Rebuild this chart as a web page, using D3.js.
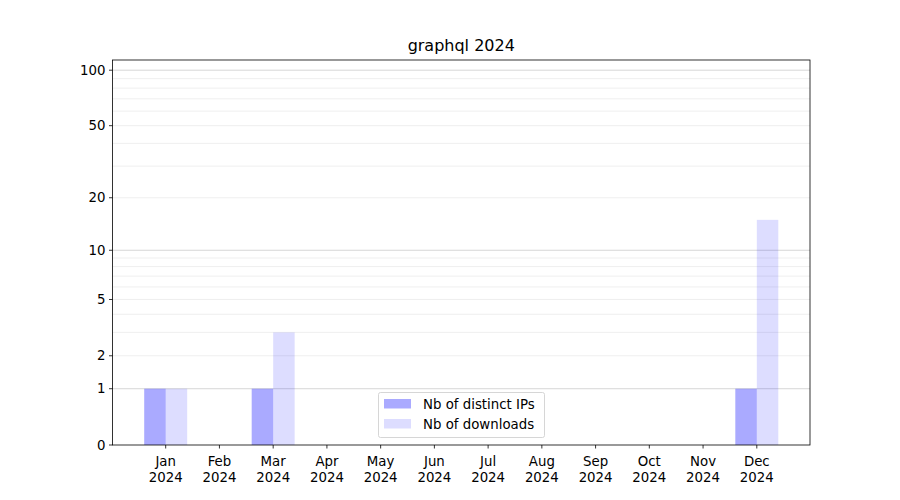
<!DOCTYPE html>
<html><head><meta charset="utf-8">
<script src="https://cdn.jsdelivr.net/npm/d3@7"></script>
<style>body{margin:0;background:#fff}svg{display:block}text{font-family:"DejaVu Sans",sans-serif;fill:#000}</style>
</head><body>
<svg id="c" width="900" height="500"></svg>
<script>
const months = ["Jan","Feb","Mar","Apr","May","Jun","Jul","Aug","Sep","Oct","Nov","Dec"];
const year = "2024";
const distinctIPs = [1,0,1,0,0,0,0,0,0,0,0,1];
const downloads = [1,0,3,0,0,0,0,0,0,0,0,15];
const yTicks = [0,1,2,5,10,20,50,100];
const majorGrid = [1,10,100];
const minorGrid = [2,3,4,5,6,7,8,9,20,30,40,50,60,70,80,90];
const title = "graphql 2024";
const legendLabels = ["Nb of distinct IPs","Nb of downloads"];

const svg = d3.select("#c");
const L=112.5,R=810,T=60,B=445;
const yMax = 113.5;
const tf = v => Math.log10(1+v);
const yLin = d3.scaleLinear().domain([0, tf(yMax)]).range([B,T]);
const y = v => yLin(tf(v));
const x = d3.scaleLinear().domain([-0.99, 11.99]).range([L,R]);
const bw = 0.4;

// grid
svg.append("g").selectAll("line").data(minorGrid).join("line")
  .attr("x1",L).attr("x2",R).attr("y1",d=>y(d)).attr("y2",d=>y(d))
  .attr("stroke","#ebebeb").attr("stroke-width",0.8);
svg.append("g").selectAll("line").data(majorGrid).join("line")
  .attr("x1",L).attr("x2",R).attr("y1",d=>y(d)).attr("y2",d=>y(d))
  .attr("stroke","#cccccc").attr("stroke-width",0.8);

// bars
svg.append("g").selectAll("rect").data(distinctIPs).join("rect")
  .attr("x",(d,i)=>x(i-bw)).attr("width",(d,i)=>x(i)-x(i-bw))
  .attr("y",d=>y(d)).attr("height",d=>B-y(d))
  .attr("fill","#0000ff").attr("fill-opacity",0.333);
svg.append("g").selectAll("rect").data(downloads).join("rect")
  .attr("x",(d,i)=>x(i)).attr("width",(d,i)=>x(i+bw)-x(i))
  .attr("y",d=>y(d)).attr("height",d=>B-y(d))
  .attr("fill","#0000ff").attr("fill-opacity",0.135);

// frame
svg.append("rect").attr("x",L).attr("y",T).attr("width",R-L).attr("height",B-T)
  .attr("fill","none").attr("stroke","#000").attr("stroke-width",0.8);

// y axis
const ya = svg.append("g");
yTicks.forEach(t=>{
  ya.append("line").attr("x1",L-3.5).attr("x2",L).attr("y1",y(t)).attr("y2",y(t)).attr("stroke","#000").attr("stroke-width",0.8);
  ya.append("text").attr("x",L-7).attr("y",y(t)).attr("dy","0.35em").attr("text-anchor","end").attr("font-size","13.33px").text(t);
});
// x axis
const xa = svg.append("g");
months.forEach((m,i)=>{
  xa.append("line").attr("x1",x(i)).attr("x2",x(i)).attr("y1",B).attr("y2",B+3.5).attr("stroke","#000").attr("stroke-width",0.8);
  const t = xa.append("text").attr("x",x(i)).attr("text-anchor","middle").attr("font-size","13.33px");
  t.append("tspan").attr("x",x(i)).attr("y",466).text(m);
  t.append("tspan").attr("x",x(i)).attr("y",482).text(year);
});

svg.append("text").attr("x",(L+R)/2).attr("y",51).attr("text-anchor","middle").attr("font-size","16px").text(title);

// legend
const lg = svg.append("g");
lg.append("rect").attr("x",378.5).attr("y",392.5).attr("width",166).attr("height",45).attr("rx",2)
  .attr("fill","#fff").attr("fill-opacity",0.8).attr("stroke","#cccccc").attr("stroke-width",0.8);
const op=[0.333,0.135];
legendLabels.forEach((lab,i)=>{
  lg.append("rect").attr("x",384).attr("y",399+i*20).attr("width",27).attr("height",9.5)
    .attr("fill","#0000ff").attr("fill-opacity",op[i]);
  lg.append("text").attr("x",423).attr("y",404+i*20).attr("dy","0.35em").attr("font-size","13.33px").text(lab);
});
</script>
</body></html>
